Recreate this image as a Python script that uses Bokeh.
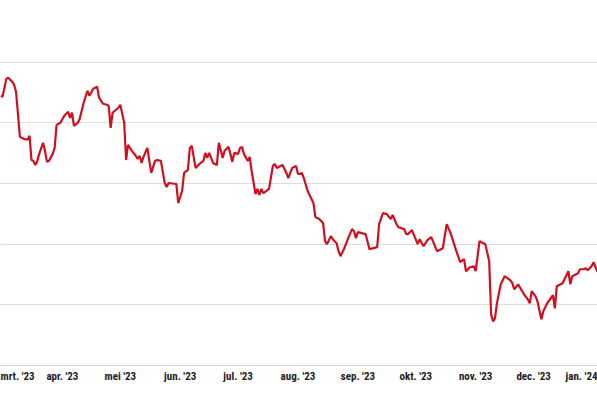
import pandas as pd
from bokeh.plotting import figure
from bokeh.models import Range1d, FixedTicker, ColumnDataSource
from bokeh.embed import file_html
from bokeh.resources import INLINE

# ---- data ----
series_start = "2023-03-01"
# day number since series_start
day = [-1, 0, 2, 3, 5, 6, 7, 8, 9, 11, 13, 14, 15, 16, 17, 18, 19, 21, 22, 23,
       24, 26, 27, 28, 30, 32, 34, 35, 36, 37, 39, 40, 42, 44, 45, 47, 49, 50, 52, 54,
       55, 56, 57, 60, 61, 63, 64, 65, 67, 69, 70, 71, 72, 73, 75, 77, 79, 80, 82, 84,
       85, 86, 90, 91, 93, 94, 96, 97, 98, 100, 102, 104, 105, 106, 107, 108, 109, 111, 112, 114,
       115, 117, 118, 119, 120, 122, 123, 124, 125, 127, 128, 129, 131, 132, 133, 134, 135, 136, 138, 140,
       141, 142, 145, 147, 148, 150, 152, 153, 154, 155, 156, 158, 161, 162, 164, 166, 167, 168, 170, 171,
       173, 174, 175, 177, 179, 181, 182, 183, 184, 188, 190, 192, 194, 195, 197, 199, 201, 202, 204, 205,
       208, 209, 210, 212, 215, 216, 218, 220, 222, 225, 228, 230, 232, 235, 237, 239, 240, 242, 244, 245,
       247, 249, 250, 252, 253, 254, 255, 256, 258, 260, 263, 264, 265, 267, 270, 272, 273, 274, 276, 277,
       279, 280, 282, 285, 286, 287, 290, 293, 294, 295, 298, 299, 301, 302, 303, 305, 306, 308, 310]
price = [42.23, 42.15, 43.64, 43.72, 43.39, 43.14, 42.56, 40.74, 38.84, 38.68, 38.60, 38.93, 36.94, 36.86, 36.53, 36.86, 37.44, 38.35, 37.69, 36.78,
         36.86, 37.44, 37.93, 39.83, 40.00, 40.58, 40.91, 40.41, 40.83, 39.75, 40.00, 40.33, 41.65, 42.64, 42.23, 42.81, 42.98, 42.07, 41.57, 41.49,
         41.40, 39.59, 40.83, 41.24, 41.49, 40.00, 36.94, 38.18, 37.69, 37.27, 37.02, 37.27, 36.69, 37.19, 37.93, 35.87, 36.86, 36.94, 36.86, 35.04,
         34.71, 35.04, 34.96, 33.39, 34.38, 35.87, 36.12, 37.93, 38.10, 36.28, 36.61, 36.86, 37.52, 37.11, 37.52, 37.11, 36.69, 36.53, 38.35, 37.11,
         37.69, 38.02, 37.44, 36.78, 37.52, 37.44, 37.93, 38.02, 37.44, 36.86, 37.19, 36.03, 34.13, 34.55, 34.05, 34.55, 34.21, 34.30, 34.55, 36.45,
         36.61, 36.28, 36.53, 35.87, 35.45, 36.28, 36.45, 35.79, 35.79, 35.87, 35.45, 34.38, 33.39, 32.23, 32.07, 31.74, 30.25, 30.00, 30.66, 30.41,
         30.08, 29.42, 29.01, 29.67, 30.50, 31.24, 31.07, 30.50, 30.99, 30.83, 29.59, 29.67, 29.75, 31.65, 32.56, 32.48, 32.07, 32.40, 31.65, 31.40,
         31.24, 30.83, 30.83, 31.16, 30.00, 30.41, 29.83, 30.33, 30.58, 29.42, 29.67, 31.65, 30.91, 29.42, 28.51, 28.76, 27.77, 28.10, 28.18, 27.77,
         30.25, 30.08, 30.00, 28.60, 24.21, 23.64, 23.88, 25.12, 26.69, 27.36, 27.02, 26.78, 26.28, 26.69, 25.87, 25.45, 25.12, 26.12, 25.70, 25.29,
         23.80, 24.46, 25.12, 25.79, 24.71, 26.53, 26.78, 27.77, 26.69, 27.36, 27.60, 27.93, 27.93, 28.02, 27.85, 28.18, 28.51, 27.77, 27.60]

month_starts = ["2023-03-01", "2023-04-01", "2023-05-01", "2023-06-01", "2023-07-01",
                "2023-08-01", "2023-09-01", "2023-10-01", "2023-11-01", "2023-12-01",
                "2024-01-01"]
month_labels = ["mrt. '23", "apr. '23", "mei '23", "jun. '23", "jul. '23",
                "aug. '23", "sep. '23", "okt. '23", "nov. '23", "dec. '23",
                "jan. '24"]
grid_values = [25, 30, 35, 40, 45]

# ---- build ----
dates = pd.Timestamp(series_start) + pd.to_timedelta(day, unit="D")
src = ColumnDataSource(dict(date=dates, price=price))


def ms(s):
    return pd.Timestamp(s).value / 1e6


p = figure(width=597, height=385, x_axis_type="datetime", y_axis_location=None,
           output_backend="svg", toolbar_location=None,
           x_range=Range1d(ms("2023-02-27 23:00"), ms("2024-01-03 02:00")),
           y_range=Range1d(20, 50.08),
           min_border_left=0, min_border_right=0, min_border_top=0, min_border_bottom=0)
p.outline_line_color = None
p.background_fill_color = "white"
p.border_fill_color = "white"

p.line("date", "price", source=src, line_color="#d0101e", line_width=2.2)

tick_ms = [ms(s) for s in month_starts]
ax = p.xaxis[0]
ax.ticker = FixedTicker(ticks=tick_ms, minor_ticks=[])
ax.major_label_overrides = {t: lab for t, lab in zip(tick_ms, month_labels)}
ax.major_tick_in = 0
ax.major_tick_out = 0
ax.minor_tick_in = 0
ax.minor_tick_out = 0
ax.axis_line_color = "#d4d4d4"
ax.axis_line_width = 1
ax.major_label_standoff = 4
ax.major_label_text_font = "Roboto Condensed"
ax.major_label_text_font_style = "bold"
ax.major_label_text_font_size = "11px"
ax.major_label_text_color = "#222222"

p.xgrid.grid_line_color = None
p.ygrid.ticker = FixedTicker(ticks=grid_values)
p.ygrid.grid_line_color = "#dcdcdc"
p.ygrid.grid_line_width = 1

open("out.html", "w").write(file_html(p, INLINE))
